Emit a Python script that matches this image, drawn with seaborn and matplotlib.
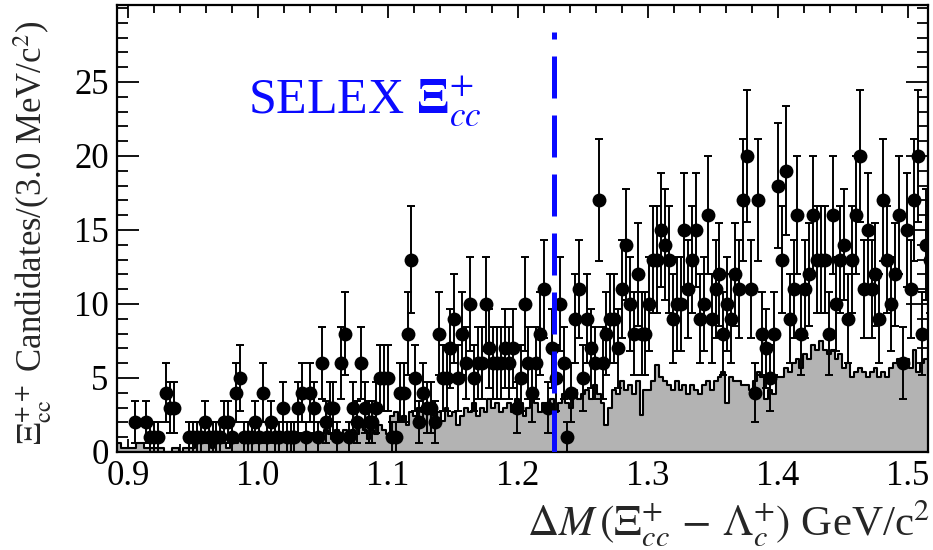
import numpy as np
import pandas as pd
import matplotlib
matplotlib.use("Agg")
import matplotlib.pyplot as plt
import seaborn as sns
from matplotlib.ticker import MultipleLocator

# ---------------- data ----------------
bin_start = 0.8915
bin_width = 0.003

counts = [
    0, 0, 0, 0, 2, 0, 0, 2, 1, 1,
    1, 0, 4, 3, 3, 0, 0, 0, 1, 1,
    1, 1, 2, 1, 1, 1, 1, 2, 2, 1,
    4, 5, 1, 1, 1, 2, 1, 4, 1, 2,
    1, 1, 3, 1, 1, 1, 3, 4, 1, 4,
    3, 1, 6, 2, 3, 3, 1, 6, 8, 1,
    3, 2, 6, 3, 2, 2, 3, 5, 5, 5,
    1, 1, 4, 4, 8, 13, 5, 2, 4, 3,
    3, 2, 8, 5, 5, 7, 9, 5, 8, 6,
    10, 5, 6, 6, 10, 7, 6, 6, 6, 7,
    6, 7, 3, 5, 10, 6, 4, 6, 8, 11,
    3, 7, 5, 10, 6, 1, 4, 9, 11, 5,
    9, 7, 6, 17, 6, 8, 9, 9, 7, 11,
    14, 10, 8, 12, 8, 8, 10, 13, 13, 15,
    14, 13, 9, 10, 10, 15, 11, 13, 15, 9,
    10, 16, 9, 11, 12, 8, 10, 9, 12, 11,
    17, 20, 11, 4, 17, 8, 7, 5, 8, 18,
    13, 19, 9, 11, 16, 8, 11, 12, 16, 13,
    13, 13, 8, 16, 10, 13, 14, 9, 13, 16,
    20, 11, 15, 11, 12, 9, 17, 13, 10, 12,
    16, 6, 15, 11, 17, 20, 8, 14, 13,
]

grey_hist = [
    0.6, 0.3, 0.3, 0.3, 0.3, 0.6, 0.6, 0.3, 0.3, 0.3,
    0.3, 0.3, 0.0, 0.0, 0.3, 0.3, 0.0, 0.3, 0.3, 0.3,
    0.6, 0.6, 0.6, 0.6, 0.3, 0.6, 0.6, 0.6, 0.3, 0.6,
    0.6, 0.9, 0.6, 0.6, 0.9, 0.6, 0.9, 0.6, 0.6, 0.9,
    0.9, 0.6, 0.9, 1.2, 0.9, 0.6, 0.9, 1.2, 1.2, 0.9,
    1.2, 0.9, 1.2, 1.5, 1.2, 0.9, 1.5, 1.2, 1.5, 1.2,
    1.5, 1.2, 1.8, 1.5, 0.9, 1.5, 1.2, 1.8, 1.5, 1.2,
    2.4, 2.7, 2.1, 2.4, 1.8, 2.7, 2.4, 3.0, 2.7, 3.0,
    2.7, 2.4, 2.7, 2.1, 3.0, 2.4, 2.7, 1.8, 2.4, 3.0,
    2.7, 3.3, 2.4, 3.0, 2.7, 3.6, 3.0, 3.3, 2.7, 3.0,
    3.3, 2.7, 3.6, 3.3, 2.4, 3.0, 3.6, 3.3, 2.7, 3.3,
    3.0, 3.6, 2.7, 3.3, 3.9, 3.3, 3.0, 4.2, 3.6, 3.9,
    4.2, 3.6, 4.5, 3.9, 3.3, 1.8, 3.0, 4.2, 3.9, 4.8,
    4.2, 4.5, 3.9, 4.8, 2.5, 4.2, 4.2, 4.8, 5.9, 5.1,
    4.8, 4.5, 4.2, 4.8, 4.2, 4.5, 3.9, 4.5, 4.2, 3.9,
    4.5, 4.8, 4.2, 4.8, 5.1, 5.4, 3.3, 5.1, 4.8, 4.8,
    4.5, 4.5, 4.2, 4.8, 5.4, 5.1, 3.6, 4.2, 3.9, 5.1,
    5.1, 5.7, 5.4, 6.0, 6.3, 5.7, 6.6, 6.3, 7.2, 6.9,
    7.5, 6.9, 6.6, 6.9, 6.3, 6.6, 5.7, 6.0, 5.1, 5.4,
    5.7, 5.4, 5.1, 5.4, 5.7, 5.1, 5.4, 5.1, 5.7, 6.0,
    6.3, 6.0, 6.3, 5.7, 6.9, 5.4, 6.0, 6.3, 6.9,
]

selex_dm = 1.228
x_ticks = [0.9, 1.0, 1.1, 1.2, 1.3, 1.4, 1.5]
y_ticks = [0, 5, 10, 15, 20, 25]

# ---------------- build frames ----------------
nb = len(counts)
edges = bin_start + bin_width * np.arange(nb + 1)
centers = 0.5 * (edges[:-1] + edges[1:])
df = pd.DataFrame({"dm": centers, "n": counts, "grey": grey_hist})
pts = df[df["n"] > 0].copy()
pts["err"] = np.sqrt(pts["n"])
brange = (float(edges[0]), float(edges[-1]))

# ---------------- style ----------------
sns.set_style("ticks")
plt.rcParams["font.family"] = ["Liberation Serif", "DejaVu Serif"]
plt.rcParams["mathtext.fontset"] = "stix"

fig = plt.figure(figsize=(9.33, 5.5), dpi=100)
ax = fig.add_axes([117 / 933, 98 / 550, 811 / 933, 447 / 550])

sns.histplot(data=df, x="dm", weights="grey", bins=nb, binrange=brange,
             element="step", fill=True, color="#b3b3b3", edgecolor="black",
             linewidth=1.5, alpha=1.0, ax=ax)

ax.errorbar(pts["dm"], pts["n"], yerr=pts["err"], fmt="none", ecolor="black",
            elinewidth=1.4, capsize=2.6, capthick=1.4, zorder=4)
sns.scatterplot(data=pts, x="dm", y="n", color="black", s=100, edgecolor="black",
                linewidth=0, ax=ax, zorder=5)

ax.plot([selex_dm, selex_dm], [0, 28.4], color="#0a0aff", linewidth=3.6,
        linestyle=(0, (8.4, 3.4)), zorder=6)
ax.text(0.992, 22.9, r"SELEX $\mathbf{\Xi}_{cc}^{+}$", color="#0a0aff",
        fontsize=36, va="baseline", ha="left")

ax.set_xlim(0.8915, 1.5154)
ax.set_ylim(0, 30.2)
ax.set_xticks(x_ticks)
ax.set_xticklabels([f"{v:.1f}" for v in x_ticks])
ax.set_yticks(y_ticks)
ax.set_yticklabels([str(v) for v in y_ticks])
ax.xaxis.set_minor_locator(MultipleLocator(0.02))
ax.yaxis.set_minor_locator(MultipleLocator(1))
ax.tick_params(axis="both", which="both", direction="in", top=True, right=True,
               labelsize=25, width=1.3, colors="black")
ax.tick_params(axis="x", which="major", length=9.5, pad=6)
ax.tick_params(axis="x", which="minor", length=5.8)
ax.tick_params(axis="y", which="major", length=16, pad=6)
ax.tick_params(axis="y", which="minor", length=8)
for s in ax.spines.values():
    s.set_linewidth(1.6)
    s.set_color("black")

ax.set_xlabel(r"$\Delta M\,(\Xi_{cc}^{+}\,-\,\Lambda_{c}^{+})$ GeV/c$^2$", fontsize=31)
ax.xaxis.label.set_ha("right")
ax.xaxis.label.set_va("center")
ax.xaxis.set_label_coords(1.003, -0.159)
ax.set_ylabel(r"$\Xi^{++}_{\rm cc}$ Candidates/(3.0 MeV/c$^2$)", fontsize=25)
ax.yaxis.label.set_va("center")
ax.yaxis.set_label_coords(-0.104, 0.49)

fig.savefig("out.png", dpi=100)
